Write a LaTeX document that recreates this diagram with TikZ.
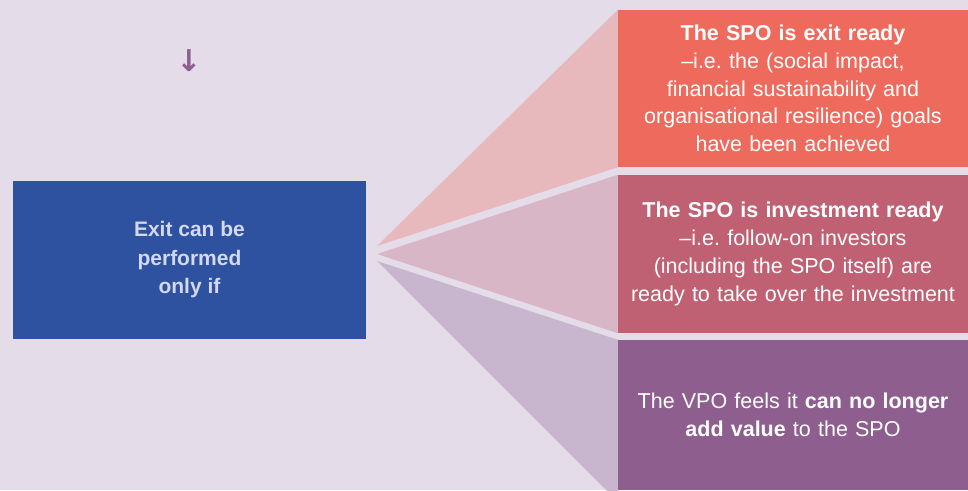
\documentclass[tikz,border=0pt]{standalone}
\usepackage{fontspec}
\setmainfont{Liberation Sans}
\newfontfamily\arrowfont{DejaVu Sans}
\usepackage{xcolor}
\usepackage{tikz}
\usetikzlibrary{arrows.meta}
\definecolor{bgcol}{HTML}{E4DCE8}
\definecolor{dblue}{HTML}{2E52A0}
\definecolor{lightblue}{HTML}{D4D8F0}
\definecolor{coral}{HTML}{EE6A5C}
\definecolor{rose}{HTML}{C06173}
\definecolor{plum}{HTML}{8E5E8E}
\definecolor{fancoral}{HTML}{E8B9BC}
\definecolor{fanrose}{HTML}{D9B6C5}
\definecolor{fanplum}{HTML}{C8B6CE}
\frenchspacing
\newcommand\tsize{\fontsize{21.5}{27.8}\selectfont}
\tikzstyle{lbox}=[rectangle,fill=dblue,text=lightblue,font=\fontsize{21}{28.5}\selectfont\bfseries,align=center,inner sep=0pt]
\tikzstyle{rbox}=[rectangle,text=white,font=\tsize,align=center,inner sep=0pt,minimum width=350,text width=348]
\begin{document}
\begin{tikzpicture}[x=1pt,y=-1pt]
	\fill[bgcol] (0,0) rectangle (968,490);
	\useasboundingbox (0,0) rectangle (968,490);
	\node[lbox,minimum width=353,minimum height=158] (exit) at (189.5,260) {Exit can be\\performed\\only if};
	\node[font=\arrowfont\bfseries\fontsize{30}{30}\selectfont,text=plum] (down) at (189,61) {↓};
	\node[rbox,fill=coral,minimum height=157] (exitready) at (793,88.5)
	  {\textbf{The SPO is exit ready}\\–i.e. the (social impact,\\financial sustainability and\\organisational resilience) goals\\have been achieved};
	\node[rbox,fill=rose,minimum height=158] (invready) at (793,254)
	  {\textbf{The SPO is investment ready}\\–i.e. follow-on investors\\(including the SPO itself) are\\ready to take over the investment};
	\node[rbox,fill=plum,minimum height=150] (novalue) at (793,415)
	  {The VPO feels it \textbf{can no longer}\\\textbf{add value} to the SPO};
	\coordinate (tip1) at (377,246);
	\coordinate (tip2) at (377,254);
	\coordinate (tip3) at (377,261);
	\coordinate (foot) at (618,502);
	\fill[fancoral] (tip1) -- (exitready.north west) -- (exitready.south west) -- cycle;
	\fill[fanrose]  (tip2) -- (invready.north west) -- (invready.south west) -- cycle;
	\fill[fanplum]  (tip3) -- (novalue.north west) -- (foot) -- cycle;
\end{tikzpicture}
\end{document}
